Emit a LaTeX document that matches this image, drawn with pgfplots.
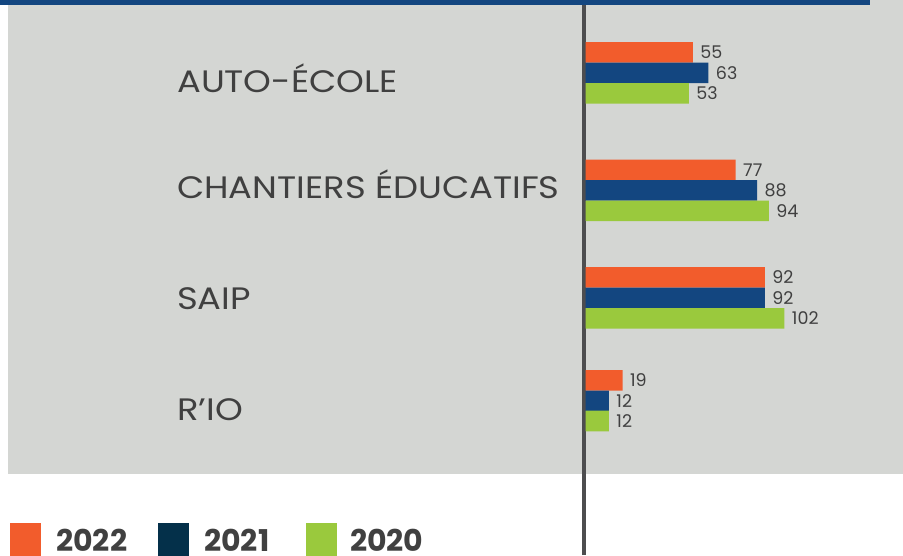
\documentclass[border=0pt]{standalone}
\usepackage{pgfplots}
\pgfplotsset{compat=1.18}
\usepackage{fontspec}
\setmainfont{Poppins}
\newfontfamily\catfont[FakeStretch=1.14]{Poppins}
\definecolor{cOrange}{HTML}{F25C2C}
\definecolor{cBlue}{HTML}{134680}
\definecolor{cNavy}{HTML}{04304A}
\definecolor{cGreen}{HTML}{9AC93D}
\definecolor{cBg}{HTML}{D4D6D3}
\definecolor{cText}{HTML}{404040}
\definecolor{cAxis}{HTML}{4D4D4F}
\begin{document}
\begin{tikzpicture}
\begin{axis}[
  scale only axis, width=903pt, height=555pt,
  xmin=-300.26, xmax=162.82, ymin=0, ymax=555,
  hide axis, clip=true,
  xbar, bar shift=0pt, bar width=20.5,
  nodes near coords,
  /pgf/number format/assume math mode=true,
  every node near coord/.append style={anchor=west, xshift=4pt, font=\fontsize{17.5}{17.5}\selectfont, text=cText},
]
\fill[cBg] (rel axis cs:0.00886,0) rectangle (rel axis cs:1,1);
\fill[white] (rel axis cs:0.00886,0) rectangle (rel axis cs:1,0.1459);
\draw[cAxis, line width=3.5pt] (axis cs:-0.77,0) -- (axis cs:-0.77,555);
\fill[cBlue] (rel axis cs:0,0.99153) rectangle (rel axis cs:0.96346,1.01);

\addplot[fill=cOrange, draw=none] coordinates {(55,502.7) (77,385) (92,277.7) (19,174.7)};
\addplot[fill=cBlue, draw=none] coordinates {(63,482) (88,364.5) (92,257) (12,154)};
\addplot[fill=cGreen, draw=none] coordinates {(53,461.5) (94,344) (102,236.5) (12,134)};

\begin{scope}[every node/.style={anchor=base west, inner sep=0pt, text=cText, font=\catfont\fontsize{31}{31}\selectfont}]
\node at (axis cs:-209.5,462) {AUTO-ÉCOLE};
\node at (axis cs:-209.5,356.7) {CHANTIERS ÉDUCATIFS};
\node at (axis cs:-209.5,245) {SAIP};
\node at (axis cs:-209.5,135) {R’IO};
\end{scope}

\fill[cOrange] (axis cs:-295.1,-1) rectangle (axis cs:-279.2,32);
\fill[cNavy] (axis cs:-219.2,-1) rectangle (axis cs:-203.3,32);
\fill[cGreen] (axis cs:-143.3,-1) rectangle (axis cs:-127.4,32);
\begin{scope}[every node/.style={anchor=base west, inner sep=0pt, text depth=0pt, text=cText, font=\fontsize{30}{30}\selectfont\bfseries}]
\node at (axis cs:-271.5,4) {2022};
\node at (axis cs:-195.6,4) {2021};
\node at (axis cs:-120.8,4) {2020};
\end{scope}
\end{axis}
\pgfresetboundingbox
\path (current axis.south west) rectangle (current axis.north east);
\end{tikzpicture}
\end{document}
